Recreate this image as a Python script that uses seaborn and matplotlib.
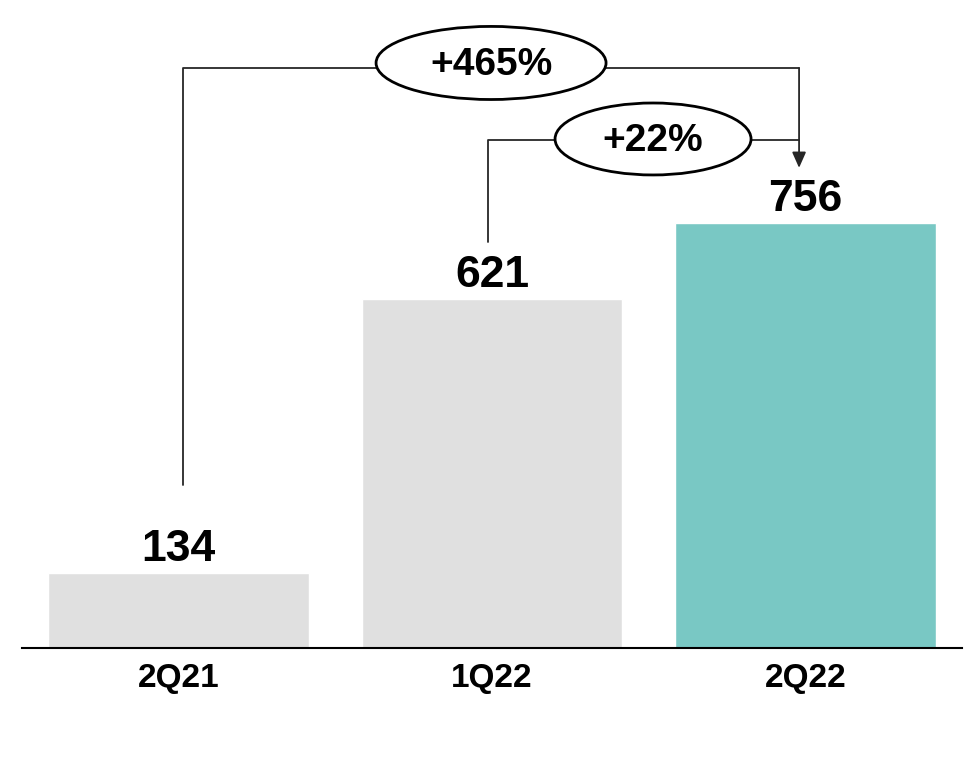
import matplotlib
matplotlib.use("Agg")
import matplotlib.pyplot as plt
from matplotlib.patches import Ellipse
import seaborn as sns

# data
quarters = ["2Q21", "1Q22", "2Q22"]
values = [134, 621, 756]
bar_colors = ["#E0E0E0", "#E0E0E0", "#79C8C4"]
growth_labels = ["+465%", "+22%"]

sns.set_theme(style="white")
plt.rcParams["font.family"] = ["Liberation Sans", "DejaVu Sans"]

fig = plt.figure(figsize=(9.76, 7.6), dpi=100)
ax = fig.add_axes([22 / 976, 112 / 760, 940 / 976, 648 / 760])

sns.barplot(x=quarters, y=values, hue=quarters, palette=bar_colors,
            legend=False, width=0.8325, saturation=1, ax=ax)

ax.set_xlim(-0.5, 2.5)
ax.set_ylim(0, 1152.6)

for c in ax.containers:
    ax.bar_label(c, fmt="%d", padding=2, fontsize=32, fontweight="bold", color="black")

for s in ["top", "left", "right"]:
    ax.spines[s].set_visible(False)
ax.spines["bottom"].set_color("black")
ax.spines["bottom"].set_linewidth(1.5)
ax.set_yticks([])
ax.set_ylabel("")
ax.set_xlabel("")
ax.tick_params(axis="x", length=0, pad=11, labelsize=24)
for lbl in ax.get_xticklabels():
    lbl.set_fontweight("bold")
    lbl.set_color("black")

# growth brackets
line_kw = dict(color="#262626", lw=1.3, zorder=3)
x_left1, x_left2, x_right = 0.014, 0.988, 1.98
y_top1, y_top2 = 1031.7, 903.6
ax.plot([x_left1, x_left1, x_right], [values[0] + 156, y_top1, y_top1], **line_kw)
ax.plot([x_left2, x_left2, x_right], [values[1] + 101, y_top2, y_top2], **line_kw)
ax.annotate("", xy=(x_right, values[2] + 98), xytext=(x_right, y_top1),
            arrowprops=dict(arrowstyle="-|>,head_length=0.95,head_width=0.42",
                            color="#262626", lw=1.3, mutation_scale=10,
                            shrinkA=0, shrinkB=0), zorder=3)

ellipses = [(0.997, 1040.6, 0.734, 130), (1.514, 905.4, 0.6255, 128)]
for (cx, cy, w, h), txt in zip(ellipses, growth_labels):
    ax.add_patch(Ellipse((cx, cy), w, h, facecolor="white", edgecolor="black",
                         lw=2, zorder=4, clip_on=False))
    ax.text(cx, cy - 4, txt, ha="center", va="center", fontsize=28,
            fontweight="bold", color="black", zorder=5)

fig.savefig("out.png", dpi=100)
